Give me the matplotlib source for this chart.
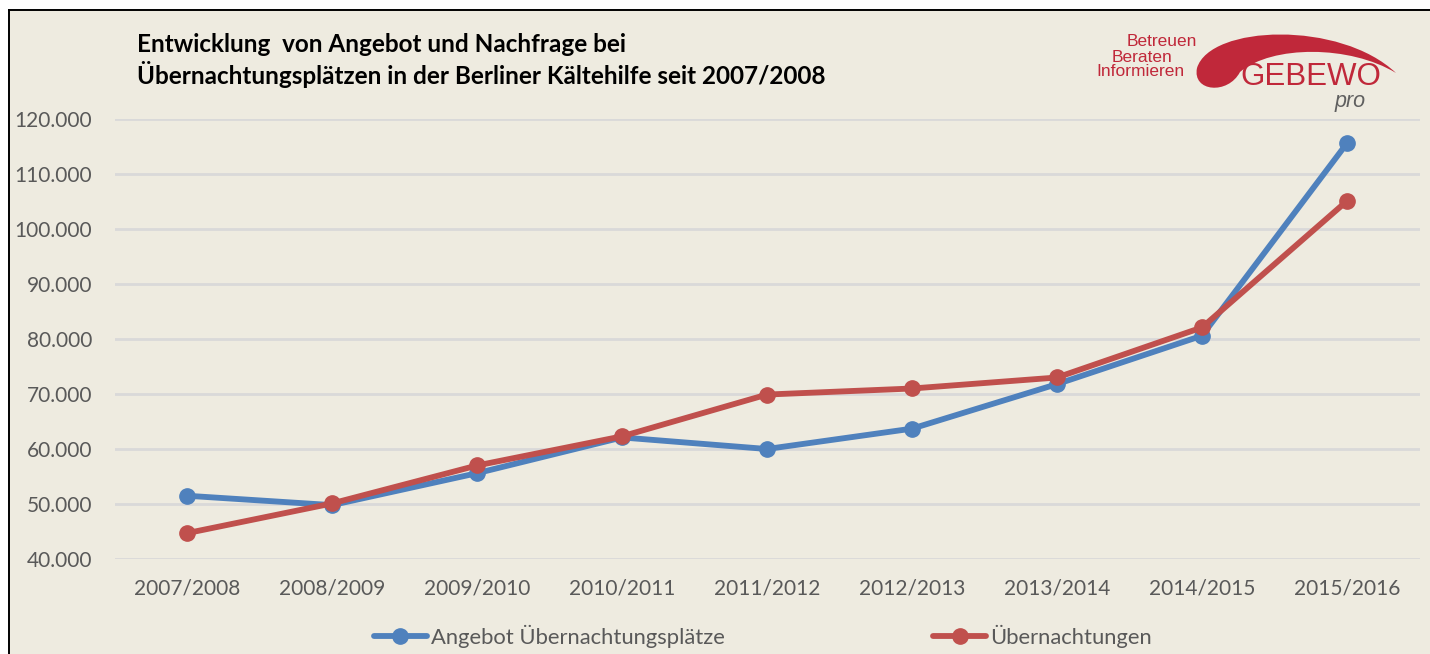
import matplotlib
matplotlib.use("Agg")
import matplotlib.pyplot as plt
from matplotlib.path import Path
from matplotlib.patches import PathPatch
from matplotlib.lines import Line2D
import matplotlib.ticker as mticker

# ---- data ----
seasons = ["2007/2008", "2008/2009", "2009/2010", "2010/2011", "2011/2012",
           "2012/2013", "2013/2014", "2014/2015", "2015/2016"]
angebot = [51500, 49800, 55600, 62100, 60000, 63700, 71800, 80600, 115600]
uebernachtungen = [44700, 50100, 57000, 62300, 69900, 71000, 73000, 82100, 105100]
series_names = ["Angebot Übernachtungsplätze", "Übernachtungen"]
y_ticks = [40000, 50000, 60000, 70000, 80000, 90000, 100000, 110000, 120000]
title_lines = ["Entwicklung  von Angebot und Nachfrage bei",
               "Übernachtungsplätzen in der Berliner Kältehilfe seit 2007/2008"]

BG = "#EEEBE0"
BLUE = "#4F81BD"
RED = "#C0504D"
GRID = "#D9D9D9"
TXT = "#595959"
LOGO_RED = "#C0283A"

W, H = 1430, 654
fig = plt.figure(figsize=(W / 100, H / 100), dpi=100, facecolor="white")

def fx(x):
    return x / W

def fy(y):
    return 1 - y / H

# beige background panel with frame (left & top edges)
bg = plt.Rectangle((fx(9), 0), 1 - fx(9), fy(9.5), transform=fig.transFigure,
                   facecolor=BG, edgecolor="none", zorder=-10)
fig.add_artist(bg)
fig.add_artist(Line2D([fx(9), fx(9)], [0, fy(9.5)], transform=fig.transFigure, color="black", lw=1.4))
fig.add_artist(Line2D([fx(9), 1], [fy(9.5), fy(9.5)], transform=fig.transFigure, color="black", lw=1.4))

ax = fig.add_axes([fx(114.5), fy(559), fx(1419.5) - fx(114.5), (559 - 119) / H], zorder=1)
ax.patch.set_alpha(0)

x = list(range(len(seasons)))
ax.plot(x, angebot, color=BLUE, lw=4.2, marker="o", ms=11, solid_capstyle="round",
        solid_joinstyle="round", label=series_names[0], zorder=3)
ax.plot(x, uebernachtungen, color=RED, lw=4.2, marker="o", ms=11, solid_capstyle="round",
        solid_joinstyle="round", label=series_names[1], zorder=4)

ax.set_xlim(-0.5, len(seasons) - 0.5)
ax.set_ylim(40000, 120000)
ax.set_yticks(y_ticks)
ax.yaxis.set_major_formatter(mticker.FuncFormatter(lambda v, p: f"{int(v):,}".replace(",", ".")))
ax.set_xticks(x)
ax.set_xticklabels(seasons)
ax.grid(axis="y", color=GRID, lw=2)
ax.set_axisbelow(True)
for s in ax.spines.values():
    s.set_visible(False)
ax.tick_params(axis="both", length=0, colors=TXT, labelsize=15)
ax.tick_params(axis="y", pad=16)
ax.tick_params(axis="x", pad=14)
for lab in ax.get_xticklabels() + ax.get_yticklabels():
    lab.set_fontfamily("Lato")

leg = ax.legend(loc="center", bbox_to_anchor=(0.497, (559 - 636) / 440), ncol=2, frameon=False,
                prop={"family": "Lato", "size": 15.8}, handlelength=2.4, handletextpad=0.2,
                columnspacing=9.5, borderaxespad=0)
for t in leg.get_texts():
    t.set_color(TXT)

# title
fig.text(fx(137), fy(44), title_lines[0], fontsize=17.5, fontweight="bold", family="Lato",
         va="center", ha="left", color="black")
fig.text(fx(137), fy(75), title_lines[1], fontsize=17.5, fontweight="bold", family="Lato",
         va="center", ha="left", color="black")

# logo
verts_px = [(1396, 73),
            (1340, 20), (1210, 25), (1197, 68),
            (1192, 92), (1228, 95), (1240, 72),
            (1272, 45), (1350, 45), (1396, 73),
            (1396, 73)]
codes = [Path.MOVETO, Path.CURVE4, Path.CURVE4, Path.CURVE4,
         Path.CURVE4, Path.CURVE4, Path.CURVE4,
         Path.CURVE4, Path.CURVE4, Path.CURVE4, Path.CLOSEPOLY]
verts = [(fx(a), fy(b)) for a, b in verts_px]
fig.add_artist(PathPatch(Path(verts, codes), transform=fig.transFigure,
                         facecolor=LOGO_RED, edgecolor="none"))
fig.text(fx(1197), fy(42), "Betreuen", fontsize=12.5, family="Liberation Sans", color=LOGO_RED,
         ha="right", va="center")
fig.text(fx(1172), fy(57), "Beraten", fontsize=12.5, family="Liberation Sans", color=LOGO_RED,
         ha="right", va="center")
fig.text(fx(1185), fy(71), "Informieren", fontsize=12.5, family="Liberation Sans", color=LOGO_RED,
         ha="right", va="center")
fig.text(fx(1240), fy(77), "GEBEWO", fontsize=22.5, family="Liberation Sans", color=LOGO_RED,
         ha="left", va="center")
fig.text(fx(1335), fy(101), "pro", fontsize=15.5, family="Liberation Sans", style="italic",
         color="#606060", ha="left", va="center")

fig.savefig("out.png", dpi=100, facecolor="white")
